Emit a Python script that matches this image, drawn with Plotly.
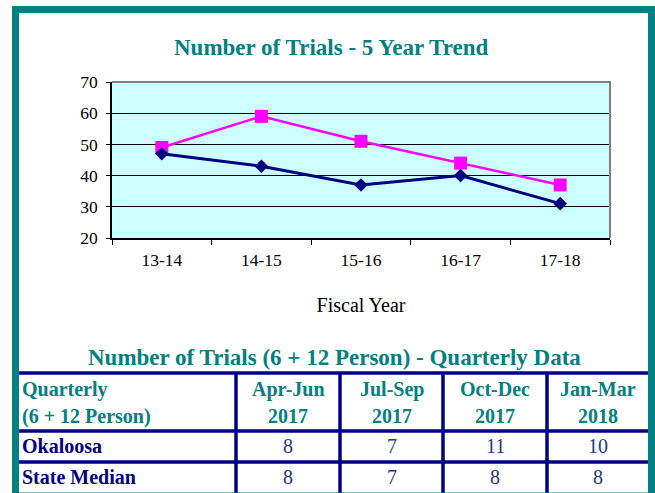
import plotly.graph_objects as go

years = ["13-14", "14-15", "15-16", "16-17", "17-18"]
okaloosa_trend = [47, 43, 37, 40, 31]
state_trend = [49, 59, 51, 44, 37]

header_first = ["Quarterly", "(6 + 12 Person)"]
quarter_names = ["Apr-Jun", "Jul-Sep", "Oct-Dec", "Jan-Mar"]
quarter_years = ["2017", "2017", "2017", "2018"]
row_labels = ["Okaloosa", "State Median"]
okaloosa_q = [8, 7, 11, 10]
state_q = [8, 7, 8, 8]

W, H = 655, 493
TEAL = "#008080"
NAVY = "#000080"
VAL = "#1F3A80"
FONT = "Liberation Serif"


def px(x):
    return x / W


def py(y):
    return 1 - y / H


fig = go.Figure()

fig.add_trace(go.Scatter(
    x=years, y=state_trend, mode="lines+markers",
    line=dict(color="#FF00FF", width=2.5),
    marker=dict(symbol="square", size=13, color="#FF00FF"),
    showlegend=False, cliponaxis=False, hoverinfo="skip"))
fig.add_trace(go.Scatter(
    x=years, y=okaloosa_trend, mode="lines+markers",
    line=dict(color=NAVY, width=3),
    marker=dict(symbol="diamond", size=10.5, color=NAVY),
    showlegend=False, cliponaxis=False, hoverinfo="skip"))

# ---- table layout (pixel geometry of the reference) ----
col_edges = [19, 236, 340, 443, 547, 648]
row_edges = [373, 431, 462, 493]
header_line_y = [389, 416]
row_text_y = [446, 477]

annotations = [
    dict(text="<b>Number of Trials - 5 Year Trend</b>", x=px(331), y=py(47), xref="paper", yref="paper",
         showarrow=False, font=dict(size=23, family=FONT, color=TEAL), xanchor="center", yanchor="middle"),
    dict(text="<b>Number of Trials (6 + 12 Person) - Quarterly Data</b>", x=px(334), y=py(357),
         xref="paper", yref="paper",
         showarrow=False, font=dict(size=23, family=FONT, color=TEAL), xanchor="center", yanchor="middle"),
]

for txt, yy in zip(header_first, header_line_y):
    annotations.append(dict(text="<b>%s</b>" % txt, x=px(col_edges[0] + 1), y=py(yy), xref="paper", yref="paper",
                            showarrow=False, xanchor="left", yanchor="middle",
                            font=dict(size=20, family=FONT, color=TEAL)))
for i, (qn, qy) in enumerate(zip(quarter_names, quarter_years)):
    cx = (col_edges[i + 1] + col_edges[i + 2]) / 2
    for txt, yy in zip([qn, qy], header_line_y):
        annotations.append(dict(text="<b>%s</b>" % txt, x=px(cx), y=py(yy), xref="paper", yref="paper",
                                showarrow=False, xanchor="center", yanchor="middle",
                                font=dict(size=20, family=FONT, color=TEAL)))
for label, vals, yy in zip(row_labels, [okaloosa_q, state_q], row_text_y):
    annotations.append(dict(text="<b>%s</b>" % label, x=px(col_edges[0] + 1), y=py(yy), xref="paper", yref="paper",
                            showarrow=False, xanchor="left", yanchor="middle",
                            font=dict(size=20, family=FONT, color=NAVY)))
    for i, v in enumerate(vals):
        cx = (col_edges[i + 1] + col_edges[i + 2]) / 2
        annotations.append(dict(text=str(v), x=px(cx), y=py(yy), xref="paper", yref="paper",
                                showarrow=False, xanchor="center", yanchor="middle",
                                font=dict(size=20, family=FONT, color=VAL)))

shapes = [
    dict(type="line", xref="paper", yref="paper", x0=px(112), x1=px(611), y0=py(82), y1=py(82),
         line=dict(color="#808080", width=2)),
    dict(type="line", xref="paper", yref="paper", x0=px(610), x1=px(610), y0=py(81), y1=py(238),
         line=dict(color="#808080", width=2)),
]
for yy in row_edges[:-1]:
    shapes.append(dict(type="line", xref="paper", yref="paper", x0=px(col_edges[0]), x1=px(col_edges[-1]),
                       y0=py(yy), y1=py(yy), line=dict(color=NAVY, width=3.5)))
for xx in col_edges[1:-1]:
    shapes.append(dict(type="line", xref="paper", yref="paper", x0=px(xx), x1=px(xx),
                       y0=py(row_edges[0]), y1=py(row_edges[-1] + 5), line=dict(color=NAVY, width=3.5)))
shapes.append(dict(type="rect", xref="paper", yref="paper", x0=px(15.5), x1=px(651.5), y0=py(496), y1=py(9.5),
                   line=dict(color=TEAL, width=7)))

fig.update_layout(
    width=W, height=H, margin=dict(l=0, r=0, t=0, b=0, pad=0, autoexpand=False),
    paper_bgcolor="white", plot_bgcolor="#CCFFFF",
    font=dict(family=FONT, color="black"),
    hovermode=False,
    xaxis=dict(domain=[px(112), px(610)], range=[-0.5, 4.5], type="category",
               showgrid=False, showline=True, linecolor="black", linewidth=1.5,
               ticks="outside", tickson="boundaries", ticklen=5, tickcolor="black",
               ticklabelstandoff=5, automargin=False,
               tickfont=dict(size=17.5, family=FONT, color="black"),
               title=dict(text="Fiscal Year", font=dict(size=20, family=FONT, color="black"), standoff=29),
               zeroline=False, fixedrange=True),
    yaxis=dict(domain=[py(238), py(82)], range=[20, 70], dtick=10,
               showgrid=True, gridcolor="black", gridwidth=1,
               showline=True, linecolor="black", linewidth=1.5,
               ticks="outside", ticklen=4, tickcolor="black",
               ticklabelstandoff=5, automargin=False,
               tickfont=dict(size=17.5, family=FONT, color="black"),
               zeroline=False, fixedrange=True),
    annotations=annotations,
    shapes=shapes,
)

fig.write_html("out.html", config={"displayModeBar": False},
               post_script="document.body.style.margin='0';document.body.style.overflow='hidden';")
